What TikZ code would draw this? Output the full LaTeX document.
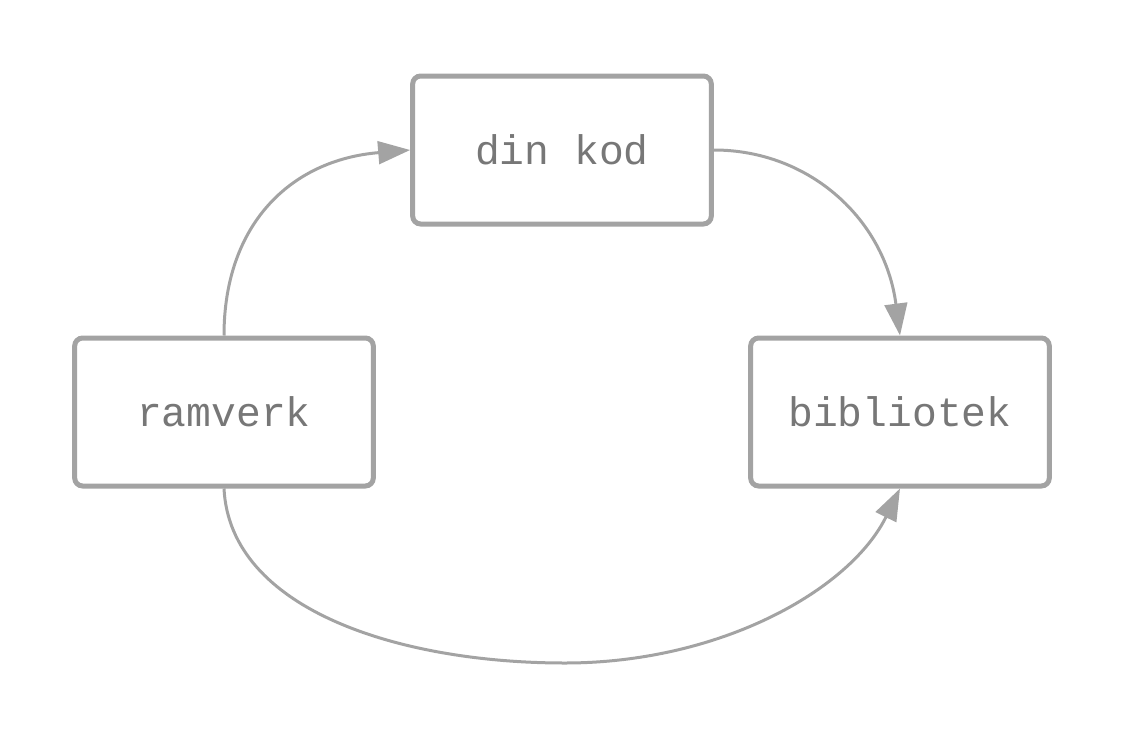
\documentclass[tikz,border=0pt]{standalone}
\usepackage{fontspec}
\setmonofont{Liberation Mono}
\usetikzlibrary{arrows.meta}
\definecolor{edgegray}{HTML}{A3A3A3}
\definecolor{textgray}{HTML}{777777}
\begin{document}
\begin{tikzpicture}[x=0.75pt,y=-0.75pt,
  box/.style={draw=edgegray,line width=3.75pt,rounded corners=6pt,fill=white,
    minimum width=224pt,minimum height=111pt,inner sep=0pt,
    font=\ttfamily\fontsize{31pt}{36pt}\selectfont,text=textgray},
  link/.style={draw=edgegray,line width=2.25pt,-{Triangle[length=24pt,width=17pt]}}]
\useasboundingbox (0,0) rectangle (1125,739);
\node[box] (kod) at (562,150) {din kod};
\node[box] (ram) at (224,412) {ramverk};
\node[box] (bib) at (900,412) {bibliotek};
\draw[link] (ram.north) .. controls (224,225) and (290,160) .. (kod.west);
\draw[link] (kod.east) .. controls (810,150) and (885,220) .. (bib.north);
\draw[link] (ram.south) .. controls (230,610) and (400,663) .. (565,663)
  .. controls (720,663) and (850,590) .. (bib.south);
\end{tikzpicture}
\end{document}
